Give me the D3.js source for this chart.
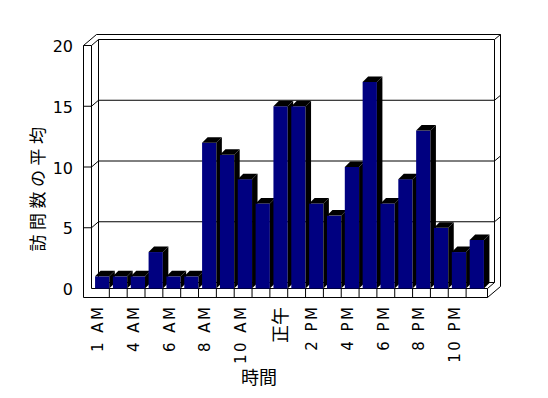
<!DOCTYPE html>
<html>
<head>
<meta charset="utf-8">
<script src="https://cdn.jsdelivr.net/npm/d3@7/dist/d3.min.js"></script>
<style>
  html, body { margin: 0; padding: 0; background: #fff; }
  svg { display: block; }
</style>
</head>
<body>
<svg id="chart" width="548" height="398"></svg>
<script>
// ---- data ----
const categories = ["1 AM","3 AM","4 AM","5 AM","6 AM","7 AM","8 AM","9 AM","10 AM","11 AM","正午","1 PM","2 PM","3 PM","4 PM","5 PM","6 PM","7 PM","8 PM","9 PM","10 PM","11 PM"];
const values = [1,1,1,3,1,1,12,11,9,7,15,15,7,6,10,17,7,9,13,5,3,4];
const xTickLabels = ["1 AM","4 AM","6 AM","8 AM","10 AM","正午","2 PM","4 PM","6 PM","8 PM","10 PM"];
const yTicks = [0,5,10,15,20];
const yTitle = "訪問数の平均";
const xTitle = "時間";

// ---- layout ----
const svg = d3.select("#chart");
const L = 91.5, R = 487.5;          // front plane x range
const B = 288.5, T = 45.5;          // front plane y range (0..20)
const wallD = [7, -6];              // depth to back wall inner face
const outerL = 83.5;                // left wall outer
const floorH = 9;
const outerTop = 34.5;
const outerR = 500.5;
const barD = [5.5, -5.5];

const x = d3.scaleBand().domain(categories).range([L, R]).padding(0.2);
const y = d3.scaleLinear().domain([0, 20]).range([B, T]);
const step = x.step();

const g = svg.append("g");
const line = (x1, y1, x2, y2) => g.append("line")
  .attr("x1", x1).attr("y1", y1).attr("x2", x2).attr("y2", y2)
  .attr("stroke", "#000").attr("stroke-width", 1);

// back wall edges
const bL = L + wallD[0], bR = R + wallD[0];
const yb = v => y(v) + wallD[1];
line(bL, yb(20), bR, yb(20));
line(bL, yb(20), bL, yb(0));
line(bL, yb(0), bR, yb(0));
line(bR, yb(20), bR, yb(0));
// outer top
line(outerL + 13, outerTop, outerR, outerTop);
line(outerL, T, outerL + 13, outerTop);
line(L, T, bL, yb(20));
line(bR, yb(20), outerR, outerTop);
line(outerL, T, L, T);
// left wall
line(outerL, T, outerL, B + floorH);
line(L, T, L, B);
// right side
line(outerR, outerTop, outerR, B + floorH + (outerTop - T));
line(R, B + floorH, outerR, B + floorH + (outerTop - T));
line(R, B, bR, yb(0));
// floor front
line(L, B, R, B);
line(outerL, B + floorH, R, B + floorH);
line(R, B, R, B + floorH);
categories.forEach((c, i) => {
  if (i > 0) line(L + i * step, B, L + i * step, B + floorH);
});

// gridlines
yTicks.filter(v => v > 0 && v < 20).forEach(v => {
  line(outerL, y(v), L, y(v));
  line(L, y(v), bL, yb(v));
  line(bL, yb(v), bR, yb(v));
  line(bR, yb(v), outerR, yb(v) - 5);
});

// bars
const bw = x.bandwidth();
categories.forEach((c, i) => {
  const x0 = x(c), yt = y(values[i]);
  const bg = g.append("g");
  bg.append("rect").attr("x", x0).attr("y", yt).attr("width", bw).attr("height", B - yt)
    .attr("fill", "#000080");
  bg.append("polygon").attr("points", [
    [x0 + bw, yt], [x0 + bw + barD[0], yt + barD[1]],
    [x0 + bw + barD[0], B + barD[1]], [x0 + bw, B]].map(p => p.join(",")).join(" "))
    .attr("fill", "#000");
  bg.append("polygon").attr("points", [
    [x0, yt], [x0 + barD[0], yt + barD[1]],
    [x0 + bw + barD[0], yt + barD[1]], [x0 + bw, yt]].map(p => p.join(",")).join(" "))
    .attr("fill", "#000");
});

// y tick labels
g.selectAll(".ytick").data(yTicks).enter().append("text")
  .attr("x", 73).attr("y", d => y(d) + 1)
  .attr("text-anchor", "end").attr("dominant-baseline", "central")
  .attr("font-family", "DejaVu Sans").attr("font-size", 16)
  .text(d => d);

// x tick labels
const isCJK = s => /[\u3000-\u9fff]/.test(s);
xTickLabels.forEach(lab => {
  const cx = x(lab) + bw / 2;
  const cjk = isCJK(lab);
  const bx = cjk ? cx + 6.5 : cx + 1;
  g.append("text")
    .attr("transform", `translate(${bx},${cjk ? 307 : 304.5}) rotate(-90)`)
    .attr("text-anchor", "end")
    .attr("font-family", cjk ? "Noto Sans CJK JP" : "DejaVu Sans")
    .attr("font-size", cjk ? 18 : 15)
    .attr("letter-spacing", cjk ? 0 : 2.5)
    .text(lab);
});

// axis titles
g.append("text")
  .attr("transform", "translate(36,187) rotate(-90)")
  .attr("text-anchor", "middle").attr("dominant-baseline", "central")
  .attr("font-family", "Noto Sans CJK JP").attr("font-size", 17)
  .attr("letter-spacing", 4.5)
  .text(yTitle);
g.append("text")
  .attr("x", 259).attr("y", 376)
  .attr("text-anchor", "middle").attr("dominant-baseline", "central")
  .attr("font-family", "Noto Sans CJK JP").attr("font-size", 18)
  .text(xTitle);
</script>
</body>
</html>
